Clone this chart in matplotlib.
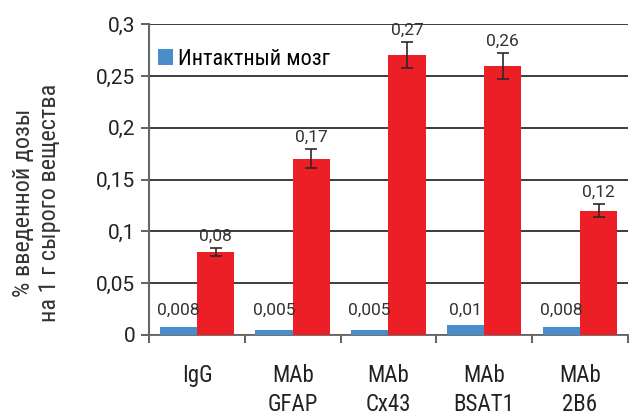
import matplotlib.pyplot as plt
from matplotlib import font_manager
import numpy as np

# fonts: condensed for words, regular for numbers
available = {f.name for f in font_manager.fontManager.ttflist}
narrow = "Roboto Condensed" if "Roboto Condensed" in available else "Roboto"
plt.rcParams['font.family'] = [narrow, 'DejaVu Sans']
digits = ["Roboto", "DejaVu Sans"]

# Data
groups = ["IgG", "MAb\nGFAP", "MAb\nCx43", "MAb\nBSAT1", "MAb\n2B6"]
intact = [0.008, 0.005, 0.005, 0.01, 0.008]
intact_labels = ["0,008", "0,005", "0,005", "0,01", "0,008"]
tumor = [0.08, 0.17, 0.27, 0.26, 0.12]
tumor_err = [0.004, 0.009, 0.0125, 0.0125, 0.006]
tumor_labels = ["0,08", "0,17", "0,27", "0,26", "0,12"]
yticks = [0, 0.05, 0.1, 0.15, 0.2, 0.25, 0.3]
ytick_labels = ["0", "0,05", "0,1", "0,15", "0,2", "0,25", "0,3"]

blue = "#4A8DCB"
red = "#EC1F27"
grid = "#3c3c3c"

fig = plt.figure(figsize=(6.29, 4.16), dpi=100)
ax = fig.add_axes([0.237, 0.195, 0.761, 0.747])

x = np.arange(len(groups))
w = 0.39
ax.bar(x - w / 2, intact, w, color=blue, label="Интактный мозг", zorder=3)
ax.bar(x + w / 2, tumor, w, color=red, zorder=3)
ax.errorbar(x + w / 2, tumor, yerr=tumor_err, fmt="none", ecolor="#332626",
            elinewidth=1.2, capsize=4, capthick=1.2, zorder=4)

for xi, lab in zip(x, intact_labels):
    ax.text(xi - w / 2, 0.024, lab, ha="center", va="center", fontsize=12.5,
            color="#333333", family=digits)
for xi, v, e, lab in zip(x, tumor, tumor_err, tumor_labels):
    ax.annotate(lab, (xi + w / 2, v + e), xytext=(0, 3), textcoords="offset points",
                ha="center", va="bottom", fontsize=12.5, color="#333333", family=digits)

ax.set_xlim(-0.5, len(groups) - 0.5)
ax.set_ylim(0, 0.3)
ax.set_yticks(yticks)
ax.set_yticklabels(ytick_labels, fontsize=15, color="#222222", family=digits)
ax.yaxis.grid(True, color=grid, linewidth=1.4, zorder=0)
ax.set_axisbelow(True)

ax.set_xticks(np.arange(len(groups) + 1) - 0.5)
ax.set_xticklabels([])
ax.set_xticks(x, minor=True)
ax.set_xticklabels(groups, minor=True, fontsize=16.5, color="#222222", linespacing=1.35,
                   va="top")
ax.tick_params(axis="x", which="minor", length=0, pad=21)
ax.tick_params(axis="x", which="major", length=6, width=1.3, color="#555555")
ax.tick_params(axis="y", length=6, width=1.3, color="#555555", pad=4)

for s in ["top", "right"]:
    ax.spines[s].set_visible(False)
ax.spines["left"].set_color("#666666")
ax.spines["left"].set_linewidth(1.5)
ax.spines["bottom"].set_color("#666666")
ax.spines["bottom"].set_linewidth(1.3)

ax.set_ylabel("% введенной дозы\nна 1 г сырого вещества", fontsize=17.5, color="#333333",
              linespacing=1.15)
ax.yaxis.set_label_coords(-0.184, 0.424)

ax.legend(loc="center left", bbox_to_anchor=(0.019, 0.887), frameon=False, fontsize=16,
          handlelength=0.68, handleheight=0.7, handletextpad=0.2, borderaxespad=0,
          borderpad=0)

fig.savefig("out.png", dpi=100)
